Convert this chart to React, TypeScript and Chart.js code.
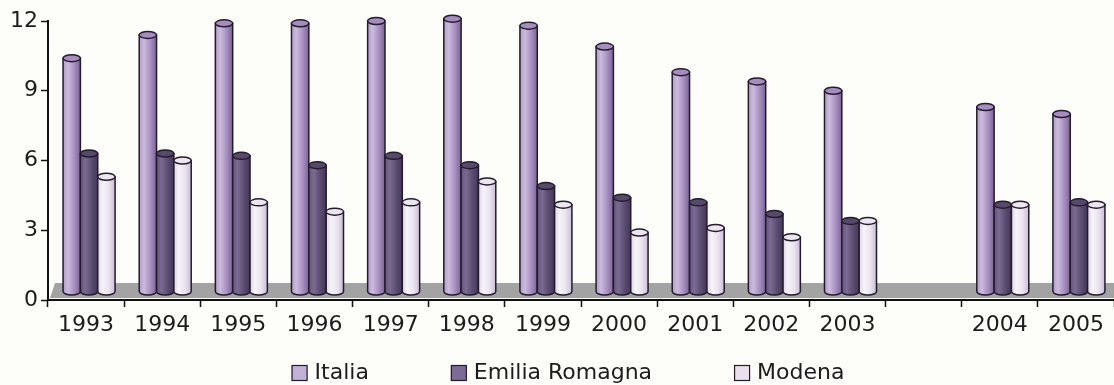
import React, { useEffect, useRef } from "react";
import { Chart, registerables } from "chart.js";

Chart.register(...registerables);

// Years on the x axis; the blank slot keeps the gap between 2003 and 2004.
const years = ["1993", "1994", "1995", "1996", "1997", "1998", "1999", "2000", "2001", "2002", "2003", "", "2004", "2005"];

const italia = [10.4, 11.4, 11.9, 11.9, 12.0, 12.1, 11.8, 10.9, 9.8, 9.4, 9.0, null, 8.3, 8.0];
const emiliaRomagna = [6.3, 6.3, 6.2, 5.8, 6.2, 5.8, 4.9, 4.4, 4.2, 3.7, 3.4, null, 4.1, 4.2];
const modena = [5.3, 6.0, 4.2, 3.8, 4.2, 5.1, 4.1, 2.9, 3.1, 2.7, 3.4, null, 4.1, 4.1];

const seriesNames = ["Italia", "Emilia Romagna", "Modena"];
const yTicks = [0, 3, 6, 9, 12];

const FONT = "'DejaVu Sans', Verdana, sans-serif";
const INK = "#1c1c1c";
const OUTLINE = "#241b2c";

// Cylinder shading per series: body gradient stops, top cap, legend swatch.
const cylinderStyles = [
  { stops: ["#b19bc9", "#cbbbdc", "#a790c1", "#7a6296"], cap: "#a68dbf", swatch: "#c2b1d7" },
  { stops: ["#65557c", "#7b6b92", "#5b4c70", "#43375a"], cap: "#574969", swatch: "#7d6a97" },
  { stops: ["#ddd4e5", "#f7f4f9", "#e9e3ef", "#c9bdd5"], cap: "#ece6f1", swatch: "#e9e0ee" },
];

const DEPTH_X = 3; // cylinders sit slightly back and to the right on the floor
const FLOOR_LIFT = 8; // centre of the cylinder base above the axis line
const CAP_RY = 3.5;

const backgroundPlugin = {
  id: "paperBackground",
  beforeDraw(chart: any) {
    const { ctx, width, height } = chart;
    ctx.save();
    ctx.fillStyle = "#fdfdfa";
    ctx.fillRect(0, 0, width, height);
    ctx.restore();
  },
};

const floorPlugin = {
  id: "floor3d",
  beforeDatasetsDraw(chart: any) {
    const { ctx, chartArea } = chart;
    const y0 = chart.scales.y.getPixelForValue(0);
    ctx.save();
    ctx.fillStyle = "#a3a3a3";
    ctx.beginPath();
    ctx.moveTo(chartArea.left + 2, y0 - 2);
    ctx.lineTo(chartArea.left + 7, y0 - 17);
    ctx.lineTo(chartArea.right, y0 - 17);
    ctx.lineTo(chartArea.right, y0 - 2);
    ctx.closePath();
    ctx.fill();
    ctx.restore();
  },
};

const cylinderPlugin = {
  id: "cylinders",
  afterDatasetsDraw(chart: any) {
    const { ctx } = chart;
    const n = chart.data.labels.length;
    ctx.save();
    ctx.lineWidth = 1.5;
    ctx.strokeStyle = OUTLINE;
    for (let i = 0; i < n; i++) {
      chart.data.datasets.forEach((ds: any, d: number) => {
        const v = ds.data[i];
        if (v === null || v === undefined) return;
        const el = chart.getDatasetMeta(d).data[i];
        const { x, y, base, width } = el.getProps(["x", "y", "base", "width"], true);
        const style = cylinderStyles[d];
        const l = x - width / 2 + DEPTH_X;
        const r = x + width / 2 + DEPTH_X;
        const cx = (l + r) / 2;
        const rx = width / 2;
        const bottom = base - FLOOR_LIFT;
        const top = y;

        const grad = ctx.createLinearGradient(l, 0, r, 0);
        grad.addColorStop(0, style.stops[0]);
        grad.addColorStop(0.28, style.stops[1]);
        grad.addColorStop(0.65, style.stops[2]);
        grad.addColorStop(1, style.stops[3]);

        ctx.beginPath();
        ctx.moveTo(l, top);
        ctx.lineTo(l, bottom);
        ctx.ellipse(cx, bottom, rx, CAP_RY, 0, Math.PI, 0, true);
        ctx.lineTo(r, top);
        ctx.closePath();
        ctx.fillStyle = grad;
        ctx.fill();
        ctx.stroke();

        ctx.beginPath();
        ctx.ellipse(cx, top, rx, CAP_RY, 0, 0, Math.PI * 2);
        ctx.fillStyle = style.cap;
        ctx.fill();
        ctx.stroke();
      });
    }
    ctx.restore();
  },
};

const legendPlugin = {
  id: "bottomLegend",
  afterDraw(chart: any, _args: any, opts: any) {
    const { ctx } = chart;
    const box = 16;
    const boxGap = 7;
    const itemGap = 82;
    ctx.save();
    ctx.font = `22px ${FONT}`;
    ctx.textBaseline = "middle";
    const widths = seriesNames.map((s) => box + boxGap + ctx.measureText(s).width);
    const total = widths.reduce((a, b) => a + b, 0) + itemGap * (widths.length - 1);
    let x = opts.centerX - total / 2;
    const cy = opts.centerY;
    seriesNames.forEach((name, k) => {
      ctx.fillStyle = cylinderStyles[k].swatch;
      ctx.fillRect(x, cy - box / 2, box, box);
      ctx.lineWidth = 1.2;
      ctx.strokeStyle = OUTLINE;
      ctx.strokeRect(x + 0.5, cy - box / 2 + 0.5, box - 1, box - 1);
      ctx.fillStyle = INK;
      ctx.fillText(name, x + box + boxGap, cy);
      x += widths[k] + itemGap;
    });
    ctx.restore();
  },
};

export default function App() {
  const canvasRef = useRef<HTMLCanvasElement | null>(null);

  useEffect(() => {
    document.body.style.margin = "0";
    const canvas = canvasRef.current;
    if (!canvas) return;

    const chart = new Chart(canvas, {
      type: "bar",
      data: {
        labels: years,
        datasets: [
          { label: seriesNames[0], data: italia, backgroundColor: "rgba(0,0,0,0)" },
          { label: seriesNames[1], data: emiliaRomagna, backgroundColor: "rgba(0,0,0,0)" },
          { label: seriesNames[2], data: modena, backgroundColor: "rgba(0,0,0,0)" },
        ],
      },
      options: {
        responsive: false,
        animation: false,
        events: [],
        layout: { padding: { top: 21, left: 0, right: 0, bottom: 0 } },
        datasets: { bar: { categoryPercentage: 0.683, barPercentage: 1.0 } },
        plugins: {
          legend: { display: false },
          tooltip: { enabled: false },
          bottomLegend: { centerX: 568, centerY: 373 },
        } as any,
        scales: {
          x: {
            offset: true,
            grid: {
              offset: true,
              drawOnChartArea: false,
              drawTicks: true,
              tickLength: 7,
              tickColor: "#111",
              tickWidth: 1.5,
            },
            border: { display: true, color: "#111", width: 2 },
            ticks: {
              font: { family: FONT, size: 22 },
              color: INK,
              padding: 5,
              maxRotation: 0,
              autoSkip: false,
            },
            afterFit: (scale: any) => {
              scale.height = 85;
            },
          },
          y: {
            min: 0,
            max: 12,
            afterBuildTicks: (scale: any) => {
              scale.ticks = yTicks.map((v) => ({ value: v }));
            },
            grid: {
              drawOnChartArea: false,
              drawTicks: true,
              tickLength: 7,
              tickColor: "#111",
              tickWidth: 1.5,
            },
            border: { display: true, color: "#111", width: 2 },
            ticks: {
              font: { family: FONT, size: 22 },
              color: INK,
              padding: 3,
            },
            afterFit: (scale: any) => {
              scale.width = 48;
            },
          },
        },
      },
      plugins: [backgroundPlugin, floorPlugin, cylinderPlugin, legendPlugin],
    });

    return () => chart.destroy();
  }, []);

  return (
    <div style={{ width: 1114, height: 385 }}>
      <canvas ref={canvasRef} width={1114} height={385} style={{ display: "block" }} />
    </div>
  );
}
